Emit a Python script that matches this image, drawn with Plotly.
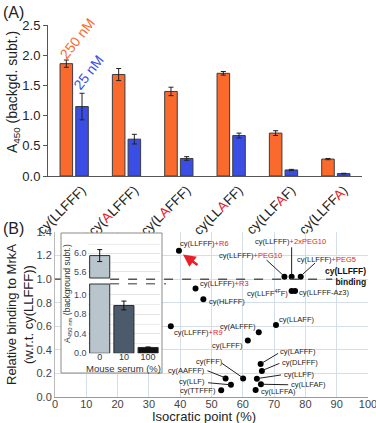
import plotly.graph_objects as go

W, H = 376, 423
def px(x): return x / W
def py(y): return 1 - y / H

RED = "#e8202a"
def red(s): return "<span style='color:%s'>%s</span>" % (RED, s)

# ---------------- Panel A data ----------------
peptides_A = ["cy(LLFFF)", "cy(" + red("A") + "LFFF)", "cy(L" + red("A") + "FFF)",
              "cy(LL" + red("A") + "FF)", "cy(LLF" + red("A") + "F)", "cy(LLFF" + red("A") + ")"]
a450_250nM = [1.86, 1.68, 1.40, 1.70, 0.71, 0.28]
err_250nM = [0.06, 0.10, 0.07, 0.03, 0.04, 0.01]
a450_25nM = [1.15, 0.61, 0.29, 0.67, 0.10, 0.04]
err_25nM = [0.22, 0.08, 0.03, 0.04, 0.01, 0.005]

# ---------------- Panel B data ----------------
names_B = ["cy(LLFFF)+R6", "cy(LLFFF)+PEG10", "cy(LLFFF)+2xPEG10", "cy(LLFFF)+PEG5",
           "cy(LLFFF)+R3", "cy(HLFFF)", "cy(LLFF4FF)", "cy(LLFFF-Az3)", "cy(LLAFF)",
           "cy(ALFFF)", "cy(LLFFF)+R9", "cy(LFFF)", "cy(LAFFF)", "cy(DLFFF)", "cy(LLFF)",
           "cy(LLFAF)", "cy(LLFFA)", "cy(FFF)", "cy(AAFFF)", "cy(LLF)", "cy(TTFFF)"]
isocratic = [39.6, 73.3, 75.6, 78.5, 44.9, 47.4, 75.6, 76.7, 70.6, 65.1, 37.0, 61.6,
             65.7, 66.1, 64.5, 65.8, 64.1, 60.1, 54.5, 56.2, 53.1]
rel_binding = [1.24, 1.02, 1.02, 1.02, 0.92, 0.83, 0.90, 0.90, 0.61, 0.55, 0.60, 0.48,
               0.28, 0.22, 0.155, 0.108, 0.06, 0.158, 0.158, 0.105, 0.057]

# ---------------- Inset data ----------------
serum_labels = ["0", "10", "100"]
inset_vals = [5.95, 0.98, 0.12]
inset_err = [0.13, 0.09, 0.01]
inset_colors = ["#b9c5cd", "#4b5b6b", "#111111"]

fig = go.Figure()

ORANGE = "#f96a2c"
BLUE = "#3a4ee6"
idx = list(range(len(peptides_A)))
fig.add_trace(go.Bar(x=idx, y=a450_250nM, width=0.24, offset=-0.27,
                     marker=dict(color=ORANGE, line=dict(color="#3c3c3c", width=1)),
                     error_y=dict(type="data", array=err_250nM, color="#222", thickness=1, width=2.5),
                     xaxis="x", yaxis="y", showlegend=False))
fig.add_trace(go.Bar(x=idx, y=a450_25nM, width=0.24, offset=0.03,
                     marker=dict(color=BLUE, line=dict(color="#3c3c3c", width=1)),
                     error_y=dict(type="data", array=err_25nM, color="#222", thickness=1, width=2.5),
                     xaxis="x", yaxis="y", showlegend=False))

fig.add_trace(go.Scatter(x=isocratic, y=rel_binding, mode="markers",
                         marker=dict(color="black", size=6),
                         xaxis="x2", yaxis="y2", showlegend=False, hoverinfo="skip"))

# dummy subplot providing inset white background
fig.add_trace(go.Scatter(x=[], y=[], xaxis="x3", yaxis="y3", showlegend=False))

sidx = list(range(len(serum_labels)))
fig.add_trace(go.Bar(x=sidx, y=inset_vals, width=0.83,
                     marker=dict(color=inset_colors, line=dict(color="#2a2a2a", width=1)),
                     error_y=dict(type="data", array=[0, inset_err[1], inset_err[2]], color="#111", thickness=1, width=2.5),
                     xaxis="x4", yaxis="y4", showlegend=False))
fig.add_trace(go.Bar(x=sidx, y=inset_vals, width=0.83,
                     marker=dict(color=inset_colors, line=dict(color="#2a2a2a", width=1)),
                     error_y=dict(type="data", array=[inset_err[0], 0, 0], color="#111", thickness=1, width=2.5),
                     xaxis="x4", yaxis="y5", showlegend=False))

FONT = "Liberation Sans, Arial, sans-serif"

fig.update_layout(
    width=W, height=H, margin=dict(l=0, r=0, t=0, b=0, autoexpand=False),
    paper_bgcolor="white", plot_bgcolor="white",
    font=dict(family=FONT, color="#222"),
    xaxis=dict(domain=[px(48), px(362)], range=[-0.5, 5.5], anchor="y",
               tickvals=[i + 0.15 for i in idx], ticktext=peptides_A, tickangle=-45, automargin=False,
               tickfont=dict(size=13.5, color="#222"), showline=True, linecolor="#555",
               ticks="", showgrid=False, zeroline=False, ticklabeloverflow="allow"),
    yaxis=dict(domain=[py(176), py(25)], range=[0, 2.5], anchor="x", dtick=0.5,
               tickformat=".1f", ticks="outside", ticklen=4, tickcolor="#555", automargin=False,
               tickfont=dict(size=13, color="#222"), showline=True, linecolor="#555",
               showgrid=False, zeroline=False),
    xaxis2=dict(domain=[px(55), px(368)], range=[0, 100], anchor="y2", dtick=10, automargin=False,
                showgrid=True, gridcolor="#d4dee9", showline=True, linecolor="#999",
                zeroline=False, ticks="", tickfont=dict(size=11, color="#444"),
                ticklabeloverflow="allow", ticklabelstandoff=-3),
    yaxis2=dict(domain=[py(397), py(232)], range=[0, 1.4], anchor="x2", dtick=0.2, automargin=False,
                tickformat=".1f", showgrid=True, gridcolor="#d4dee9", showline=True,
                linecolor="#bbb", zeroline=False, ticks="", tickfont=dict(size=11, color="#444")),
    xaxis3=dict(domain=[px(61), px(162)], range=[0, 1], anchor="y3", visible=False, automargin=False),
    yaxis3=dict(domain=[py(373), py(233)], range=[0, 1], anchor="x3", visible=False, automargin=False),
    xaxis4=dict(domain=[px(87.6), px(160.2)], range=[-0.5, 2.5], anchor="y4", automargin=False,
                tickvals=sidx, ticktext=serum_labels, ticks="", showgrid=False,
                zeroline=False, tickfont=dict(size=9, color="#333"), ticklabelstandoff=-3),
    yaxis4=dict(domain=[py(353.3), py(284)], range=[0, 1.42], anchor="x4", automargin=False,
                tickvals=[0, 0.4, 0.8, 1.2], ticktext=["0.0", "0.4", "0.8", "1.0"],
                showgrid=True, gridcolor="#e4e4e4", zeroline=False, ticks="",
                minor=dict(dtick=0.2, showgrid=True, gridcolor="#ececec"),
                tickfont=dict(size=9, color="#3a4a5a")),
    yaxis5=dict(domain=[py(278), py(236)], range=[5.463, 6.376], anchor="x4", automargin=False,
                tickvals=[5.6, 6.0], ticktext=["5.6", "6.0"],
                showgrid=True, gridcolor="#e4e4e4", zeroline=False, ticks="",
                minor=dict(dtick=0.2, showgrid=True, gridcolor="#ececec"),
                tickfont=dict(size=9, color="#3a4a5a")),
)

ann = []
def A(text, x, y, xref="paper", yref="paper", xanchor="center", **kw):
    d = dict(text=text, x=x, y=y, xref=xref, yref=yref, showarrow=False,
             xanchor=xanchor, yanchor="middle")
    d.update(kw)
    ann.append(d)

A("(A)", px(13), py(12), font=dict(size=16, color="#222"))
A("(B)", px(13), py(228), font=dict(size=16, color="#222"))
A("A<sub>450</sub> (backgd. subt.)", px(13), py(92), textangle=-90, font=dict(size=14, color="#222"))
A("250 nM", 0.07, 2.28, xref="x", yref="y", textangle=-52, font=dict(size=14, color=ORANGE))
A("25 nM", 0.28, 1.72, xref="x", yref="y", textangle=-52, font=dict(size=14, color=BLUE))
A("Relative binding to MrkA<br>(w.r.t. cy(LLFFF))", px(20), py(315), textangle=-90,
  font=dict(size=13, color="#222"))
A("Isocratic point (%)", px(204), py(416.5), font=dict(size=13, color="#222"))
A("A<sub>450 nm</sub> (background subt.)", px(67), py(294), textangle=-90,
  font=dict(size=8.5, color="#333"))
A("Mouse serum (%)", px(124), py(368.5), font=dict(size=9.5, color="#333"))

LF = 7.5
# point labels (text, x, y, xanchor)
labels = [
    ("cy(LLFFF)" + red("+R6"), 39.3, 1.306, "left"),
    ("cy(LLFFF)" + red("+2xPEG10"), 75.1, 1.317, "center"),
    ("cy(LLFFF)" + red("+PEG10"), 62.6, 1.204, "center"),
    ("cy(LLFFF)" + red("+PEG5"), 86.6, 1.168, "center"),
    ("cy(LLFFF)" + red("+R3"), 45.6, 0.964, "left"),
    ("cy(HLFFF)", 48.5, 0.814, "left"),
    ("cy(LLFF<sup>4F</sup>F)", 75.1, 0.885, "right"),
    ("cy(LLFFF-Az3)", 77.2, 0.885, "left"),
    ("cy(LLAFF)", 70.8, 0.66, "left"),
    ("cy(ALFFF)", 64.9, 0.60, "right"),
    ("cy(LLFFF)" + red("+R9"), 37.3, 0.549, "left"),
    ("cy(LFFF)", 60.7, 0.435, "right"),
    ("cy(LAFFF)", 71.2, 0.384, "left"),
    ("cy(DLFFF)", 71.9, 0.294, "left"),
    ("cy(LLFF)", 72.4, 0.189, "left"),
    ("cy(LLFAF)", 74.9, 0.104, "left"),
    ("cy(LLFFA)", 65.1, 0.048, "left"),
    ("cy(FFF)", 49.2, 0.305, "center"),
    ("cy(AAFFF)", 48.6, 0.223, "right"),
    ("cy(LLF)", 48.5, 0.13, "right"),
    ("cy(TTFFF)", 52.1, 0.057, "right"),
]
for t, x, y, xa in labels:
    A(t, x, y, xref="x2", yref="y2", xanchor=xa, font=dict(size=LF, color="#222"))

A("<b>cy(LLFFF)<br>binding</b>", 100, 1.02, xref="x2", yref="y2", xanchor="right", align="right",
  font=dict(size=8.5, color="#111"))

# red arrow
ann.append(dict(x=40.9, y=1.21, ax=46.0, ay=1.11, xref="x2", yref="y2", axref="x2", ayref="y2",
                text="", showarrow=True, arrowhead=2, arrowsize=1, arrowwidth=2.5,
                arrowcolor=RED, standoff=0))

fig.update_layout(annotations=ann)

shapes = []
leaders = [
    (75.6, 1.27, 75.6, 1.04), (67.6, 1.162, 72.8, 1.035), (83.1, 1.137, 79.2, 1.043),
    (66.0, 0.286, 71.3, 0.37), (66.6, 0.229, 71.7, 0.285), (65.0, 0.158, 72.2, 0.187),
    (66.2, 0.108, 74.5, 0.104), (53.3, 0.286, 59.8, 0.167), (48.7, 0.223, 54.3, 0.164),
    (48.9, 0.121, 55.9, 0.104),
]
for x0, y0, x1, y1 in leaders:
    shapes.append(dict(type="line", xref="x2", yref="y2", x0=x0, y0=y0, x1=x1, y1=y1,
                       line=dict(color="#222", width=1)))
# cy(LLFFF) binding reference line
for x0, x1 in [(0, 1.9), (17.6, 88.6)]:
    shapes.append(dict(type="line", xref="x2", yref="y2", x0=x0, x1=x1, y0=1.0, y1=1.0,
                       line=dict(color="#555", width=1.5, dash="dash"), layer="above"))
# inset axis break
shapes.append(dict(type="line", xref="paper", yref="paper", x0=px(110), x1=px(166),
                   y0=py(283.8), y1=py(283.8), line=dict(color="#777", width=1.5, dash="dash")))
for yb in [278, 284]:
    shapes.append(dict(type="line", xref="x4", yref="paper", x0=-0.415, x1=0.415,
                       y0=py(yb), y1=py(yb), line=dict(color="#333", width=1)))
# inset frame
shapes.append(dict(type="rect", xref="paper", yref="paper", x0=px(61), x1=px(162),
                   y0=py(373), y1=py(233), line=dict(color="#8a8a8a", width=1), layer="above"))
fig.update_layout(shapes=shapes)

fig.write_html("out.html", config={"displayModeBar": False},
               post_script="document.body.style.margin='0';document.body.style.overflow='hidden';")
